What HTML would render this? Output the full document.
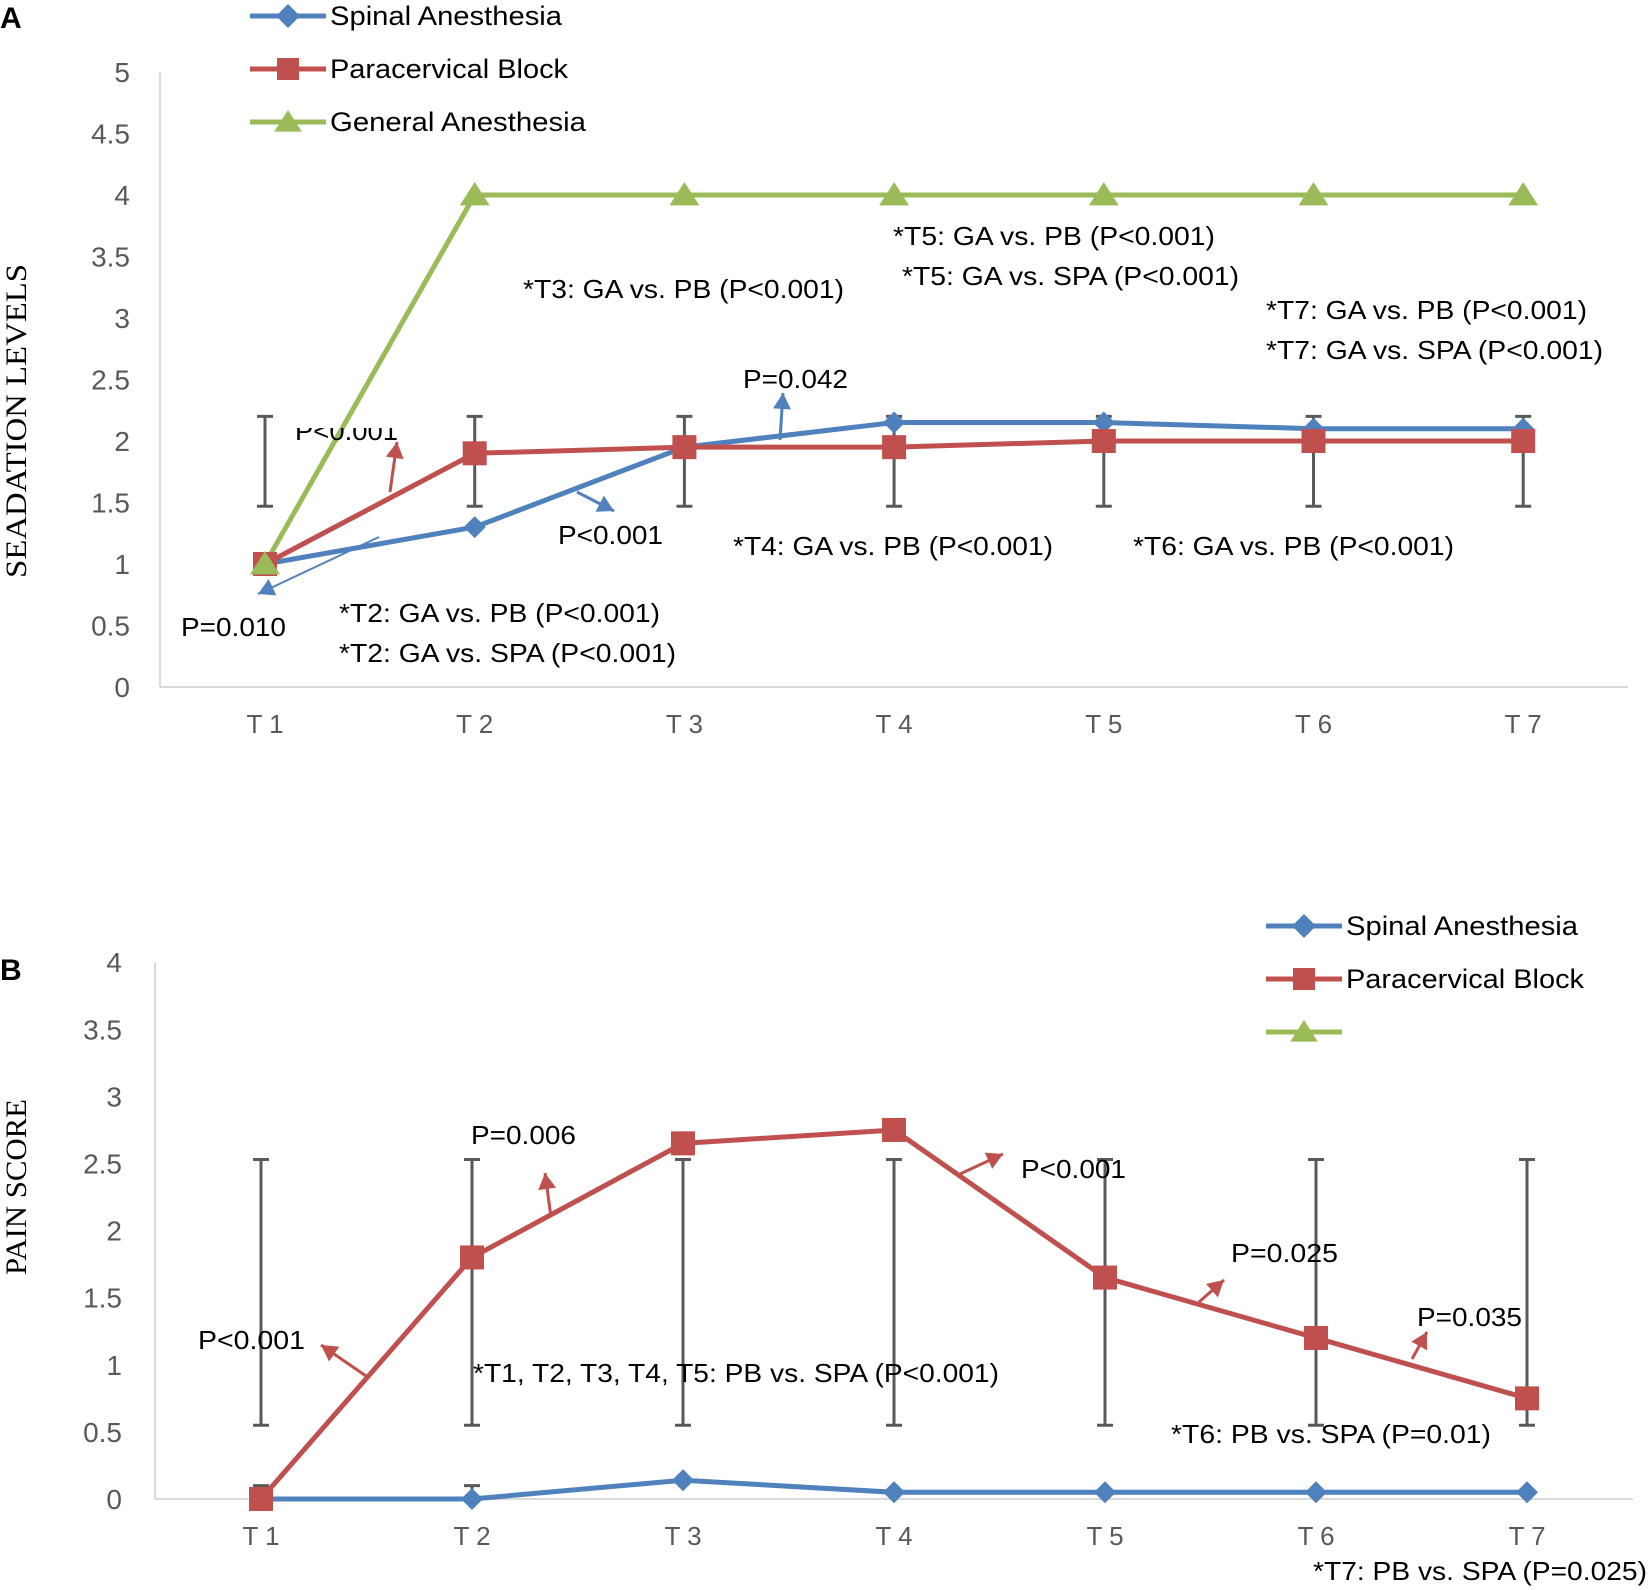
<!DOCTYPE html>
<html><head><meta charset="utf-8"><style>
body{margin:0;background:#fff}
svg{display:block}
text{font-family:"Liberation Sans",sans-serif}
</style></head><body>
<svg id="s" width="1650" height="1590" viewBox="0 0 1650 1590" xmlns="http://www.w3.org/2000/svg">
<defs><clipPath id="clipA"><rect x="280" y="428" width="140" height="40"/></clipPath></defs>
<text x="0" y="28" font-size="30" font-weight="bold">A</text>
<text x="0" y="980" font-size="30" font-weight="bold">B</text>
<g id="gA"></g>
<g id="gB"></g>
</svg>
<script>
const categories=["T1","T2","T3","T4","T5","T6","T7"];
const aTicks=[0,0.5,1,1.5,2,2.5,3,3.5,4,4.5,5];
const aSpinal=[1,1.3,1.95,2.15,2.15,2.1,2.1];
const aParacervical=[1,1.9,1.95,1.95,2,2,2];
const aGeneral=[1,4,4,4,4,4,4];
const aErrTop=[2.2,2.2,2.2,2.2,2.2,2.2,2.2];
const aErrBottom=[1.47,1.47,1.47,1.47,1.47,1.47,1.47];
const bTicks=[0,0.5,1,1.5,2,2.5,3,3.5,4];
const bSpinal=[0,0,0.14,0.05,0.05,0.05,0.05];
const bParacervical=[0,1.8,2.65,2.75,1.65,1.2,0.75];
const bErrTop=[2.53,2.53,2.53,2.53,2.53,2.53,2.53];
const bErrBottom=[0.55,0.55,0.55,0.55,0.55,0.55,0.55];
const bSpinalErrTop=[0.1,0.1,null,null,null,null,null];

const NS="http://www.w3.org/2000/svg";
const BLUE="#4F81BD",RED="#C0504D",GREEN="#9BBB59",GRAY="#595959";
function mk(p,tag,at){const e=document.createElementNS(NS,tag);for(const k in at)e.setAttribute(k,at[k]);p.appendChild(e);return e;}
function txt(p,x,y,s,size,at){const t=mk(p,"text",Object.assign({x:x,y:y,"font-size":size,fill:"#000"},at||{}));t.textContent=s;return t;}
function marker(p,type,x,y,color,sz){
  let e;
  if(type==="diamond")e=mk(p,"polygon",{points:`${x},${y-sz} ${x+sz},${y} ${x},${y+sz} ${x-sz},${y}`,fill:color});
  else if(type==="square")e=mk(p,"rect",{x:x-sz,y:y-sz,width:2*sz,height:2*sz,fill:color});
  else e=mk(p,"polygon",{points:`${x},${y-sz} ${x+sz*1.15},${y+sz*0.8} ${x-sz*1.15},${y+sz*0.8}`,fill:color});
  return e;
}
function arrow(p,x1,y1,x2,y2,color,w){
  mk(p,"line",{x1:x1,y1:y1,x2:x2,y2:y2,stroke:color,"stroke-width":w||3});
  const a=Math.atan2(y2-y1,x2-x1),L=16,W=9;
  const bx=x2-L*Math.cos(a),by=y2-L*Math.sin(a);
  const h=mk(p,"polygon",{points:`${x2},${y2} ${bx-W*Math.sin(a)},${by+W*Math.cos(a)} ${bx+W*Math.sin(a)},${by-W*Math.cos(a)}`,fill:color});
  
  
}

function chart(g,cfg){
  const xs=i=>cfg.x0+i*cfg.dx;
  const ys=v=>cfg.y0-v*cfg.dy;
  const yt=mk(g,"g",{});
  
  
  cfg.ticks.forEach(v=>{const t=txt(yt,cfg.tickX,ys(v)+10,String(v),28,{"text-anchor":"end",fill:GRAY});
    
    });
  const ax=mk(g,"line",{x1:cfg.axL,y1:ys(cfg.ticks[cfg.ticks.length-1]),x2:cfg.axL,y2:cfg.y0,stroke:"#d9d9d9","stroke-width":2});
  
  
  const bx=mk(g,"line",{x1:cfg.axL,y1:cfg.y0,x2:cfg.axR,y2:cfg.y0,stroke:"#d9d9d9","stroke-width":2});
  
  
  categories.forEach((c,i)=>{const t=txt(g,xs(i),cfg.y0+46,c.split("").join(" "),26,{"text-anchor":"middle",fill:GRAY});
    
    });
  const yl=txt(g,0,0,cfg.title,30,{style:"font-family:'Liberation Serif',serif","text-anchor":"middle",transform:`translate(${cfg.titleX},${cfg.titleY}) rotate(-90)`,textLength:cfg.titleW,lengthAdjust:"spacingAndGlyphs"});
  
  
  return {xs,ys};
}
function errBars(g,s,tops,bots){
  tops.forEach((t,i)=>{if(t==null)return;const x=s.xs(i);
    const e=mk(g,"path",{d:`M${x},${s.ys(t)}V${s.ys(bots[i])}M${x-8},${s.ys(t)}H${x+8}M${x-8},${s.ys(bots[i])}H${x+8}`,stroke:GRAY,"stroke-width":3,fill:"none"});
    
    });
}
function series(g,s,vals,color,type,name,sz){
  const pl=mk(g,"polyline",{points:vals.map((v,i)=>s.xs(i)+","+s.ys(v)).join(" "),fill:"none",stroke:color,"stroke-width":5,"stroke-linejoin":"round"});
  
  
  vals.forEach((v,i)=>{const m=marker(g,type,s.xs(i),s.ys(v),color,sz);
    
    });
}
function legend(g,x,y,items){
  items.forEach((it,k)=>{const yy=y+k*53;
    const lg=mk(g,"g",{});
    
    
    mk(lg,"line",{x1:x,y1:yy,x2:x+76,y2:yy,stroke:it.c,"stroke-width":5});
    marker(lg,it.t,x+38,yy,it.c,it.t==="square"?11:12);
    if(it.n)txt(lg,x+80,yy+9,it.n,27,{textLength:it.w,lengthAdjust:"spacingAndGlyphs"});});
}
function note(g,x,y,s,w,name){const t=txt(g,x,y,s,26,{textLength:w,lengthAdjust:"spacingAndGlyphs"});
  
  return t;}

// Chart A
const gA=document.getElementById("gA");
const sA=chart(gA,{x0:265,dx:209.7,y0:687,dy:123,ticks:aTicks,tickX:130,axL:160,axR:1628,title:"SEADATION LEVELS",titleW:314,titleX:26,titleY:421});
errBars(gA,sA,aErrTop,aErrBottom);
series(gA,sA,aGeneral,GREEN,"triangle","general-anesthesia",13);
series(gA,sA,aSpinal,BLUE,"diamond","spinal-anesthesia",11);
series(gA,sA,aParacervical,RED,"square","paracervical-block",12);
marker(gA,"triangle",sA.xs(0),sA.ys(aGeneral[0]),GREEN,13);
legend(gA,250,16,[{c:BLUE,t:"diamond",n:"Spinal Anesthesia",w:232},{c:RED,t:"square",n:"Paracervical Block",w:238},{c:GREEN,t:"triangle",n:"General Anesthesia",w:256}]);
note(gA,523,298,"*T3: GA vs. PB (P<0.001)",321);
note(gA,893,245,"*T5: GA vs. PB (P<0.001)",322);
note(gA,902,285,"*T5: GA vs. SPA (P<0.001)",337);
note(gA,1266,319,"*T7: GA vs. PB (P<0.001)",321);
note(gA,1266,359,"*T7: GA vs. SPA (P<0.001)",337);
note(gA,743,388,"P=0.042",105);
const cl=note(gA,295,440,"P<0.001",103);cl.setAttribute("clip-path","url(#clipA)");
note(gA,558,544,"P<0.001",105);
note(gA,733,555,"*T4: GA vs. PB (P<0.001)",320);
note(gA,1133,555,"*T6: GA vs. PB (P<0.001)",321);
note(gA,181,636,"P=0.010",105);
note(gA,339,622,"*T2: GA vs. PB (P<0.001)",321);
note(gA,339,662,"*T2: GA vs. SPA (P<0.001)",337);
arrow(gA,390,492,397,442,RED,3);
arrow(gA,577,492,614,511,BLUE,3);
arrow(gA,780,440,783,393,BLUE,3);
arrow(gA,379,537,258,594,BLUE,2);

// Chart B
const gB=document.getElementById("gB");
const sB=chart(gB,{x0:261,dx:211,y0:1499,dy:134.2,ticks:bTicks,tickX:122,axL:155,axR:1633,title:"PAIN SCORE",titleW:176,titleX:26,titleY:1187});
errBars(gB,sB,bErrTop,bErrBottom);
errBars(gB,sB,bSpinalErrTop,[0,0,0,0,0,0,0]);
series(gB,sB,bSpinal,BLUE,"diamond","spinal-anesthesia",11);
series(gB,sB,bParacervical,RED,"square","paracervical-block",12);
legend(gB,1266,926,[{c:BLUE,t:"diamond",n:"Spinal Anesthesia",w:232},{c:RED,t:"square",n:"Paracervical Block",w:238},{c:GREEN,t:"triangle",n:""}]);
note(gB,471,1144,"P=0.006",105);
note(gB,198,1349,"P<0.001",107);
note(gB,473,1382,"*T1, T2, T3, T4, T5: PB vs. SPA (P<0.001)",526);
note(gB,1021,1178,"P<0.001",105);
note(gB,1231,1262,"P=0.025",107);
note(gB,1417,1326,"P=0.035",105);
note(gB,1171,1443,"*T6: PB vs. SPA (P=0.01)",320);
note(gB,1313,1580,"*T7: PB vs. SPA (P=0.025)",334);
arrow(gB,366,1376,321,1345,RED,3);
arrow(gB,551,1217,545,1173,RED,3);
arrow(gB,960,1174,1003,1154,RED,3);
arrow(gB,1199,1302,1224,1280,RED,3);
arrow(gB,1412,1359,1427,1332,RED,3);
</script>
</body></html>
